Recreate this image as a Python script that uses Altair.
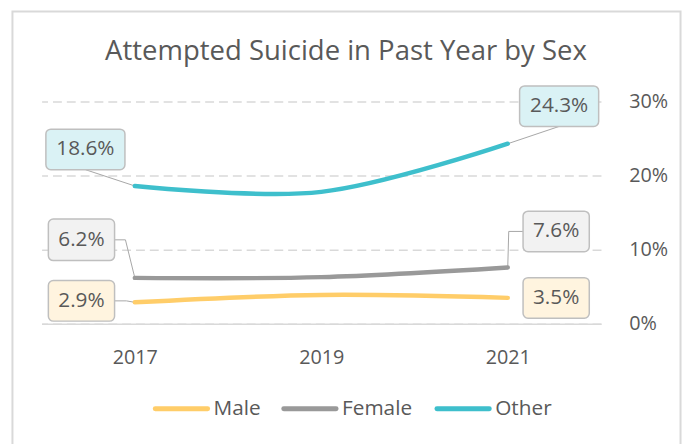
import altair as alt
import pandas as pd

# ---------------- data ----------------
years = [2017, 2019, 2021]
series = ["Male", "Female", "Other"]
male = [0.029, 0.039, 0.035]
female = [0.062, 0.063, 0.076]
other = [0.186, 0.178, 0.243]
title_text = "Attempted Suicide in Past Year by Sex"
y_ticks = [0.0, 0.1, 0.2, 0.3]

# ---------------- style ----------------
FONT = "Open Sans"
TXT = "#595959"
GRID = "#D9D9D9"
line_colors = ["#FFCD69", "#999999", "#3EBFCC"]
box_fills = {"Male": "#FFF4DF", "Female": "#F2F2F2", "Other": "#DAF2F5"}

PLOT_W, PLOT_H = 566, 225
XDOM = [2016, 2022]
YDOM = [0.0, 0.30]
PX_X = PLOT_W / (XDOM[1] - XDOM[0])
PX_Y = PLOT_H / (YDOM[1] - YDOM[0])

# legend layout (pixels, relative to plot origin)
LEG_X = [115, 245, 400]
LEG_Y = 311
LEG_LEN = 53
LEG_GAP = 6

# callout layout (pixel offsets of box centre from the data point)
LAYOUT = {
    ("Other", 2017): dict(dx=-50, dy=-37, w=80, h=41, leader="bottom"),
    ("Other", 2021): dict(dx=52, dy=-38, w=80, h=41, leader="bottom"),
    ("Female", 2017): dict(dx=-54, dy=-38.5, w=67, h=42, leader="right", gap=11),
    ("Female", 2021): dict(dx=49, dy=-36.5, w=67, h=41, leader="left"),
    ("Male", 2017): dict(dx=-54, dy=-1.5, w=67, h=41, leader="right", gap=12),
    ("Male", 2021): dict(dx=49, dy=0, w=67, h=41, leader="none"),
}


def X(year, px):
    return year + px / PX_X


def Y(val, px):
    return val - px / PX_Y


values = {"Male": male, "Female": female, "Other": other}
rows = []
for s in series:
    for yr, v in zip(years, values[s]):
        rows.append({"Year": yr, "Sex": s, "Value": v})
df = pd.DataFrame(rows)

box_rows, lead_rows = [], []
for s in series:
    for idx in (0, len(years) - 1):
        yr, v = years[idx], values[s][idx]
        L = LAYOUT[(s, yr)]
        dx, dy, w, h = L["dx"], L["dy"], L["w"], L["h"]
        box_rows.append({
            "x": X(yr, dx - w / 2), "x2": X(yr, dx + w / 2),
            "y": Y(v, dy - h / 2), "y2": Y(v, dy + h / 2),
            "cx": X(yr, dx), "cy": Y(v, dy),
            "fill": box_fills[s], "label": f"{v * 100:.1f}%",
        })
        key = f"{s}-{yr}"
        pts = []
        if L["leader"] == "bottom":
            pts = [(dx, dy + h / 2), (0, 0)]
        elif L["leader"] == "right":
            pts = [(dx + w / 2, dy), (dx + w / 2 + L["gap"], dy), (0, 0)]
        elif L["leader"] == "left":
            pts = [(dx - w / 2, dy), (1, dy), (0, 0)]
        for i, (px, py) in enumerate(pts):
            lead_rows.append({"key": key, "ord": i, "x": X(yr, px), "y": Y(v, py)})

boxes = pd.DataFrame(box_rows)
leads = pd.DataFrame(lead_rows)
legend_df = pd.DataFrame({
    "Sex": series,
    "lx": LEG_X,
    "lx2": [x + LEG_LEN for x in LEG_X],
    "tx": [x + LEG_LEN + LEG_GAP for x in LEG_X],
})

xs = alt.Scale(domain=XDOM, nice=False, zero=False)
ys = alt.Scale(domain=YDOM, nice=False)
cs = alt.Scale(domain=series, range=line_colors)

XAX = alt.Axis(
    values=years, format="d", title=None, grid=False, ticks=False,
    domain=True, domainColor=GRID, domainWidth=1.5,
    labelFont=FONT, labelFontSize=20, labelColor=TXT, labelPadding=24)
YAX = alt.Axis(
    orient="right", values=y_ticks, format=".0%", title=None,
    domain=False, ticks=False, grid=True, gridColor=GRID, gridWidth=1.5,
    gridDash=[9, 5], labelFont=FONT, labelFontSize=20, labelColor=TXT,
    labelPadding=28)

lines = alt.Chart(df).mark_line(
    interpolate="catmull-rom", strokeWidth=4.5, strokeCap="round"
).encode(
    x=alt.X("Year:Q", scale=xs, axis=XAX),
    y=alt.Y("Value:Q", scale=ys, axis=YAX),
    color=alt.Color("Sex:N", scale=cs, legend=None),
    detail="Sex:N",
)

leaders = alt.Chart(leads).mark_line(color="#A6A6A6", strokeWidth=1).encode(
    x=alt.X("x:Q", scale=xs, axis=XAX),
    y=alt.Y("y:Q", scale=ys, axis=YAX),
    detail="key:N",
    order="ord:Q",
)

rects = alt.Chart(boxes).mark_rect(
    cornerRadius=5, stroke="#BFBFBF", strokeWidth=1.5
).encode(
    x=alt.X("x:Q", scale=xs, axis=XAX), x2="x2:Q",
    y=alt.Y("y:Q", scale=ys, axis=YAX), y2="y2:Q",
    fill=alt.Fill("fill:N", scale=None),
)

texts = alt.Chart(boxes).mark_text(
    font=FONT, fontSize=21, color=TXT, align="center", baseline="middle"
).encode(
    x=alt.X("cx:Q", scale=xs, axis=XAX),
    y=alt.Y("cy:Q", scale=ys, axis=YAX),
    text="label:N",
)

leg_lines = alt.Chart(legend_df).mark_rule(strokeWidth=5, strokeCap="round").encode(
    x=alt.X("lx:Q", scale=None), x2="lx2:Q", y=alt.value(LEG_Y),
    color=alt.Color("Sex:N", scale=cs, legend=None),
)
leg_text = alt.Chart(legend_df).mark_text(
    font=FONT, fontSize=21, color=TXT, align="left", baseline="middle"
).encode(x=alt.X("tx:Q", scale=None), y=alt.value(LEG_Y), text="Sex:N")

title = alt.Chart(pd.DataFrame({"t": [title_text]})).mark_text(
    font=FONT, fontSize=27.8, color=TXT, align="center", baseline="alphabetic"
).encode(x=alt.value(308), y=alt.value(-42), text="t:N")

border = alt.Chart(pd.DataFrame({"a": [0]})).mark_rect(
    fill=None, stroke=GRID, strokeWidth=2
).encode(x=alt.value(-29.5), x2=alt.value(646.5), y=alt.value(-91), y2=alt.value(360))

chart = alt.layer(border, title, leaders, lines, rects, texts, leg_lines, leg_text).properties(
    width=PLOT_W, height=PLOT_H,
    autosize=alt.AutoSizeParams(type="none"),
    padding={"left": 34, "top": 92, "right": 83, "bottom": 119},
    background="white",
).configure_view(stroke=None)

chart.save("out.html", embed_options={"renderer": "svg", "actions": False})
